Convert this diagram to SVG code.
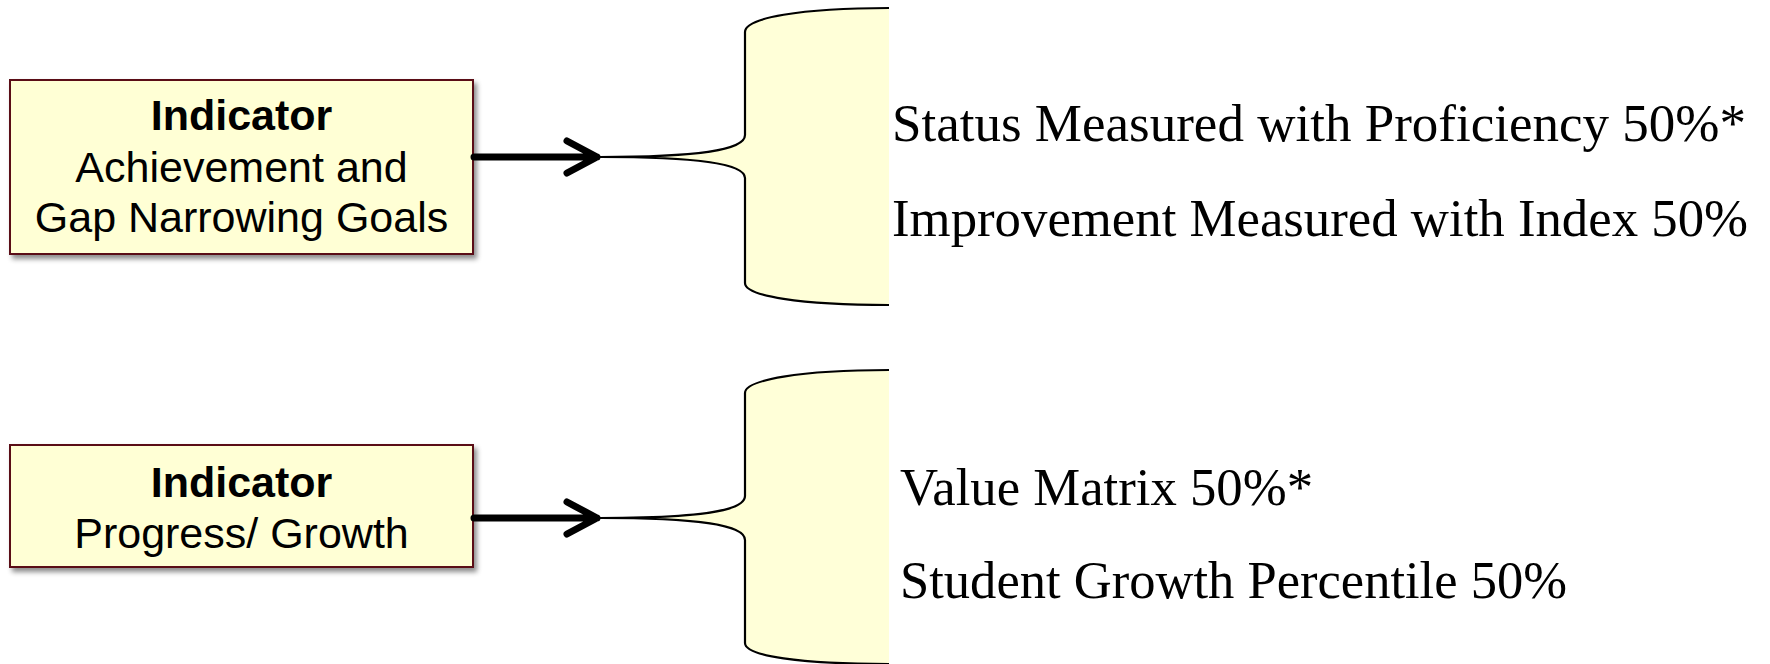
<svg xmlns="http://www.w3.org/2000/svg" width="1770" height="664" viewBox="0 0 1770 664">
  <defs>
    <filter id="shadow" x="-10%" y="-10%" width="125%" height="135%">
      <feDropShadow dx="3" dy="4" stdDeviation="2.5" flood-color="#000" flood-opacity="0.45"/>
    </filter>
    <style>
      .box { fill: #FFFFD5; stroke: #5A0F12; stroke-width: 2; filter: url(#shadow); }
      .brace { fill: #FFFFD8; stroke: none; }
      .brace-line { fill: none; stroke: #000; stroke-width: 2.2; }
      .arrow { fill: none; stroke: #000; stroke-width: 7; stroke-linecap: round; stroke-linejoin: round; }
      .lbl { font-family: "Liberation Sans", Arial, sans-serif; font-size: 43px; fill: #000; text-anchor: middle; }
      .lbl-b { font-weight: bold; }
      .item { font-family: "Liberation Serif", "Times New Roman", serif; font-size: 53px; fill: #000; }
    </style>
  </defs>

  <!-- Indicator: achievement and gap narrowing -->
  <g id="node-achievement">
    <rect class="box" x="10" y="80" width="463" height="174"/>
    <text class="lbl lbl-b" x="241.5" y="130">Indicator</text>
    <text class="lbl" x="241.5" y="182">Achievement and</text>
    <text class="lbl" x="241.5" y="232">Gap Narrowing Goals</text>
  </g>

  <!-- Indicator: progress / growth -->
  <g id="node-progress">
    <rect class="box" x="10" y="445" width="463" height="122"/>
    <text class="lbl lbl-b" x="241.5" y="497">Indicator</text>
    <text class="lbl" x="241.5" y="548">Progress/ Growth</text>
  </g>

  <!-- Brace holding the achievement measures -->
  <g id="node-achievement-measures">
    <path class="brace" d="M889,8 C800,8 745,18 745,32 L745,135 C745,150 700,157 600,157 C700,157 745,164 745,178 L745,283 C745,296 800,305 889,305 Z"/>
    <path class="brace-line" d="M889,8 C800,8 745,18 745,32 L745,135 C745,150 700,157 600,157 C700,157 745,164 745,178 L745,283 C745,296 800,305 889,305"/>
    <text class="item" x="892" y="141" textLength="854" lengthAdjust="spacingAndGlyphs">Status Measured with Proficiency 50%*</text>
    <text class="item" x="892" y="236" textLength="856" lengthAdjust="spacingAndGlyphs">Improvement Measured with Index 50%</text>
  </g>

  <!-- Brace holding the growth measures -->
  <g id="node-growth-measures">
    <path class="brace" d="M889,370 C800,370 745,380 745,393 L745,496 C745,511 700,518 600,518 C700,518 745,525 745,540 L745,643 C745,656 800,664 889,664 Z"/>
    <path class="brace-line" d="M889,370 C800,370 745,380 745,393 L745,496 C745,511 700,518 600,518 C700,518 745,525 745,540 L745,643 C745,656 800,664 889,664"/>
    <text class="item" x="900" y="505" textLength="413" lengthAdjust="spacingAndGlyphs">Value Matrix 50%*</text>
    <text class="item" x="900" y="598" textLength="667" lengthAdjust="spacingAndGlyphs">Student Growth Percentile 50%</text>
  </g>

  <!-- Connectors -->
  <g id="connectors">
    <path class="arrow" d="M474,157 L597,157 M567,141 L597,157 L567,173"/>
    <path class="arrow" d="M474,518 L597,518 M567,502 L597,518 L567,534"/>
  </g>
</svg>
